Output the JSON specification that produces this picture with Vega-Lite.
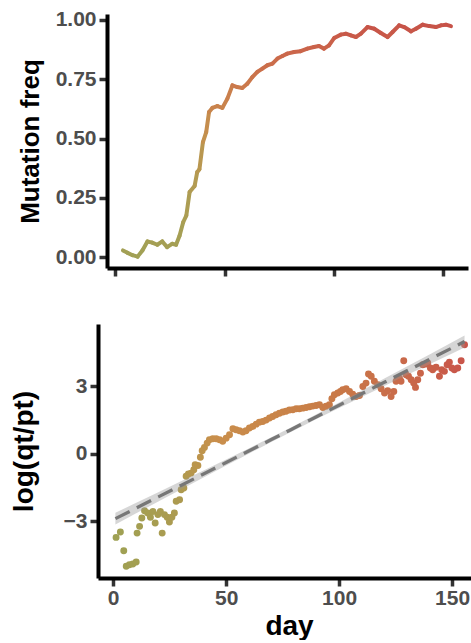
{
  "$schema": "https://vega.github.io/schema/vega-lite/v6.json",
  "background": "white",
  "padding": {"left": 9, "top": 8, "right": 0, "bottom": 0},
  "spacing": 46,
  "config": {
    "view": {"stroke": null},
    "font": "Liberation Sans",
    "axis": {
      "grid": false,
      "domainColor": "black",
      "domainWidth": 4,
      "tickColor": "#333333",
      "tickWidth": 3.5,
      "tickSize": 8,
      "labelFont": "Liberation Sans",
      "labelFontSize": 21,
      "labelFontWeight": "bold",
      "labelColor": "#4d4d4d",
      "titleFont": "Liberation Sans",
      "titleFontSize": 28,
      "titleFontWeight": "bold",
      "titleColor": "black"
    }
  },
  "datasets": {
    "freq": [
      {"day": 3.5, "freq": 0.028}, {"day": 5.6, "freq": 0.018}, {"day": 7.9, "freq": 0.008}, {"day": 10.2, "freq": 0.002},
      {"day": 12.4, "freq": 0.028}, {"day": 14.7, "freq": 0.066}, {"day": 16.9, "freq": 0.061}, {"day": 19.2, "freq": 0.052},
      {"day": 21.5, "freq": 0.066}, {"day": 23.7, "freq": 0.042}, {"day": 26.0, "freq": 0.056}, {"day": 27.8, "freq": 0.052},
      {"day": 29.4, "freq": 0.09}, {"day": 31.1, "freq": 0.148}, {"day": 32.5, "freq": 0.175}, {"day": 34.0, "freq": 0.274},
      {"day": 36.3, "freq": 0.30}, {"day": 37.5, "freq": 0.359}, {"day": 38.5, "freq": 0.37}, {"day": 40.1, "freq": 0.485},
      {"day": 41.6, "freq": 0.527}, {"day": 42.9, "freq": 0.612}, {"day": 44.4, "freq": 0.629}, {"day": 46.7, "freq": 0.637},
      {"day": 49.0, "freq": 0.629}, {"day": 51.3, "freq": 0.668}, {"day": 53.6, "freq": 0.724}, {"day": 55.8, "freq": 0.717},
      {"day": 58.1, "freq": 0.713}, {"day": 60.4, "freq": 0.731}, {"day": 62.7, "freq": 0.759}, {"day": 65.0, "freq": 0.781},
      {"day": 67.3, "freq": 0.795}, {"day": 69.6, "freq": 0.809}, {"day": 71.9, "freq": 0.816}, {"day": 74.2, "freq": 0.837},
      {"day": 76.5, "freq": 0.848}, {"day": 78.7, "freq": 0.858}, {"day": 81.8, "freq": 0.865}, {"day": 84.8, "freq": 0.868},
      {"day": 87.9, "freq": 0.879}, {"day": 90.9, "freq": 0.886}, {"day": 93.2, "freq": 0.890}, {"day": 95.5, "freq": 0.879},
      {"day": 97.8, "freq": 0.893}, {"day": 100.2, "freq": 0.924}, {"day": 103.2, "freq": 0.938}, {"day": 105.5, "freq": 0.942},
      {"day": 107.8, "freq": 0.935}, {"day": 110.1, "freq": 0.928}, {"day": 112.4, "freq": 0.942}, {"day": 115.4, "freq": 0.970},
      {"day": 118.5, "freq": 0.963}, {"day": 121.5, "freq": 0.945}, {"day": 124.6, "freq": 0.928}, {"day": 126.9, "freq": 0.949},
      {"day": 129.9, "freq": 0.977}, {"day": 132.2, "freq": 0.970}, {"day": 135.3, "freq": 0.952}, {"day": 137.6, "freq": 0.963},
      {"day": 140.6, "freq": 0.980}, {"day": 143.7, "freq": 0.974}, {"day": 146.7, "freq": 0.970}, {"day": 149.0, "freq": 0.977},
      {"day": 151.3, "freq": 0.980}, {"day": 153.6, "freq": 0.974}
    ],
    "logit": [
      {"day": 1.3, "v": -3.71}, {"day": 3.2, "v": -3.47}, {"day": 4.7, "v": -4.30}, {"day": 5.8, "v": -4.99},
      {"day": 7.2, "v": -4.92}, {"day": 8.7, "v": -4.89}, {"day": 10.2, "v": -4.80}, {"day": 10.6, "v": -3.52},
      {"day": 11.7, "v": -3.22}, {"day": 12.7, "v": -2.85}, {"day": 13.9, "v": -2.53}, {"day": 15.3, "v": -2.63},
      {"day": 16.5, "v": -2.82}, {"day": 17.6, "v": -2.56}, {"day": 18.6, "v": -3.07}, {"day": 19.8, "v": -2.70},
      {"day": 20.9, "v": -2.56}, {"day": 21.7, "v": -3.52}, {"day": 22.7, "v": -2.70}, {"day": 23.9, "v": -2.82},
      {"day": 24.9, "v": -3.03}, {"day": 26.0, "v": -2.82}, {"day": 27.1, "v": -2.63}, {"day": 27.9, "v": -2.11},
      {"day": 29.4, "v": -2.04}, {"day": 30.1, "v": -1.60}, {"day": 31.3, "v": -1.52}, {"day": 32.3, "v": -1.00},
      {"day": 33.3, "v": -0.90}, {"day": 34.5, "v": -0.86}, {"day": 35.7, "v": -0.71}, {"day": 36.3, "v": -0.49},
      {"day": 37.5, "v": -0.52}, {"day": 38.6, "v": -0.16}, {"day": 39.4, "v": 0.13}, {"day": 40.4, "v": 0.28},
      {"day": 41.6, "v": 0.47}, {"day": 42.6, "v": 0.62}, {"day": 44.1, "v": 0.66}, {"day": 45.6, "v": 0.66},
      {"day": 47.1, "v": 0.62}, {"day": 48.5, "v": 0.55}, {"day": 50.0, "v": 0.69}, {"day": 51.5, "v": 0.84},
      {"day": 53.0, "v": 1.11}, {"day": 54.4, "v": 1.06}, {"day": 55.9, "v": 1.02}, {"day": 57.4, "v": 0.96},
      {"day": 58.8, "v": 1.02}, {"day": 60.3, "v": 1.14}, {"day": 61.8, "v": 1.21}, {"day": 63.3, "v": 1.31},
      {"day": 64.7, "v": 1.40}, {"day": 66.2, "v": 1.43}, {"day": 67.7, "v": 1.49}, {"day": 69.2, "v": 1.58},
      {"day": 70.6, "v": 1.65}, {"day": 72.1, "v": 1.73}, {"day": 73.6, "v": 1.79}, {"day": 75.1, "v": 1.85},
      {"day": 76.5, "v": 1.88}, {"day": 78.0, "v": 1.94}, {"day": 79.5, "v": 1.95}, {"day": 81.0, "v": 1.99},
      {"day": 82.4, "v": 1.99}, {"day": 83.9, "v": 2.02}, {"day": 85.4, "v": 2.05}, {"day": 86.9, "v": 2.08},
      {"day": 88.3, "v": 2.11}, {"day": 89.8, "v": 2.14}, {"day": 91.3, "v": 2.17}, {"day": 92.8, "v": 2.05},
      {"day": 94.2, "v": 2.10}, {"day": 95.7, "v": 2.17}, {"day": 96.8, "v": 2.44}, {"day": 97.9, "v": 2.61},
      {"day": 99.4, "v": 2.69}, {"day": 100.6, "v": 2.76}, {"day": 101.6, "v": 2.84}, {"day": 103.1, "v": 2.88},
      {"day": 104.6, "v": 2.76}, {"day": 106.0, "v": 2.64}, {"day": 107.5, "v": 2.54}, {"day": 109.0, "v": 2.58},
      {"day": 110.5, "v": 2.98}, {"day": 111.9, "v": 3.13}, {"day": 113.0, "v": 3.53}, {"day": 114.2, "v": 3.43},
      {"day": 115.6, "v": 3.21}, {"day": 117.1, "v": 3.06}, {"day": 118.6, "v": 2.88}, {"day": 120.1, "v": 2.69},
      {"day": 121.5, "v": 2.79}, {"day": 123.0, "v": 2.54}, {"day": 124.2, "v": 2.76}, {"day": 125.2, "v": 3.21},
      {"day": 126.7, "v": 3.35}, {"day": 127.4, "v": 3.21}, {"day": 128.6, "v": 4.12}, {"day": 129.6, "v": 3.50},
      {"day": 130.7, "v": 3.43}, {"day": 131.9, "v": 3.28}, {"day": 133.0, "v": 3.13}, {"day": 133.8, "v": 2.94},
      {"day": 134.8, "v": 3.28}, {"day": 136.0, "v": 3.57}, {"day": 137.0, "v": 3.94}, {"day": 138.1, "v": 3.97},
      {"day": 139.2, "v": 4.02}, {"day": 140.4, "v": 3.80}, {"day": 141.4, "v": 3.72}, {"day": 142.9, "v": 3.83},
      {"day": 144.4, "v": 3.43}, {"day": 145.4, "v": 3.72}, {"day": 146.6, "v": 3.65}, {"day": 147.8, "v": 3.94},
      {"day": 148.8, "v": 4.06}, {"day": 149.9, "v": 3.80}, {"day": 151.0, "v": 3.72}, {"day": 152.5, "v": 3.80},
      {"day": 154.0, "v": 4.12}, {"day": 155.5, "v": 4.83}
    ],
    "fit": [
      {"day": 1, "fit": -2.879, "lo": -3.139, "hi": -2.619},
      {"day": 10, "fit": -2.422, "lo": -2.656, "hi": -2.188},
      {"day": 20, "fit": -1.914, "lo": -2.120, "hi": -1.708},
      {"day": 30, "fit": -1.406, "lo": -1.588, "hi": -1.224},
      {"day": 40, "fit": -0.898, "lo": -1.053, "hi": -0.743},
      {"day": 50, "fit": -0.390, "lo": -0.523, "hi": -0.257},
      {"day": 60, "fit": 0.118, "lo": 0.003, "hi": 0.233},
      {"day": 70, "fit": 0.626, "lo": 0.523, "hi": 0.729},
      {"day": 78, "fit": 1.032, "lo": 0.932, "hi": 1.132},
      {"day": 90, "fit": 1.642, "lo": 1.535, "hi": 1.749},
      {"day": 100, "fit": 2.150, "lo": 2.029, "hi": 2.271},
      {"day": 110, "fit": 2.658, "lo": 2.517, "hi": 2.799},
      {"day": 120, "fit": 3.166, "lo": 3.001, "hi": 3.331},
      {"day": 130, "fit": 3.674, "lo": 3.484, "hi": 3.864},
      {"day": 140, "fit": 4.182, "lo": 3.965, "hi": 4.399},
      {"day": 150, "fit": 4.690, "lo": 4.444, "hi": 4.936},
      {"day": 155.5, "fit": 4.970, "lo": 4.705, "hi": 5.235}
    ]
  },
  "vconcat": [
    {
      "width": 370,
      "height": 254,
      "data": {"name": "freq"},
      "transform": [
        {"window": [{"op": "lead", "field": "day", "as": "day2"}, {"op": "lead", "field": "freq", "as": "freq2"}], "sort": [{"field": "day"}]},
        {"filter": "datum.day2 != null"}
      ],
      "mark": {"type": "rule", "strokeWidth": 4, "strokeCap": "round"},
      "encoding": {
        "x": {"field": "day", "type": "quantitative", "scale": {"domain": [-3.8, 161.4], "range": [9, 370], "nice": false, "zero": false},
              "axis": {"values": [0, 50, 100, 150], "labels": false, "title": null}},
        "x2": {"field": "day2"},
        "y": {"field": "freq", "type": "quantitative", "scale": {"domain": [-0.046, 1.025], "nice": false, "zero": false},
              "axis": {"values": [0, 0.25, 0.5, 0.75, 1], "format": ".2f", "title": "Mutation freq", "titleFontSize": 26, "titleX": -64, "labelPadding": 3, "offset": -9}},
        "y2": {"field": "freq2"},
        "color": {"field": "freq", "type": "quantitative", "legend": null,
                  "scale": {"domain": [0, 0.3, 0.5, 0.7, 0.85, 1.0], "range": ["#a1a055", "#b39b52", "#c4904e", "#cb7c4c", "#cb684b", "#c64f48"]}}
      }
    },
    {
      "width": 374,
      "height": 254,
      "layer": [
        {
          "data": {"name": "logit"},
          "mark": {"type": "circle", "size": 48, "opacity": 1},
          "encoding": {
            "x": {"field": "day", "type": "quantitative", "scale": {"domain": [-6.7, 158.8], "nice": false, "zero": false},
                  "axis": {"values": [0, 50, 100, 150], "title": "day", "labelPadding": 1, "titlePadding": 4, "titleX": 191}},
            "y": {"field": "v", "type": "quantitative", "scale": {"domain": [-5.51, 5.75], "nice": false, "zero": false},
                  "axis": {"values": [-3, 0, 3], "title": "log(qt/pt)", "titleX": -60, "labelPadding": 3}},
            "color": {"field": "day", "type": "quantitative", "legend": null,
                      "scale": {"domain": [0, 30, 45, 90, 125, 155], "range": ["#9ea154", "#ad9a50", "#c98f4c", "#c97e48", "#c96c4a", "#c9554a"]}}
          }
        },
        {
          "data": {"name": "fit"},
          "mark": {"type": "area", "color": "#999999", "opacity": 0.4},
          "encoding": {
            "x": {"field": "day", "type": "quantitative"},
            "y": {"field": "lo", "type": "quantitative"},
            "y2": {"field": "hi"}
          }
        },
        {
          "data": {"name": "fit"},
          "mark": {"type": "line", "color": "#777777", "strokeWidth": 3.3, "strokeDash": [16, 8]},
          "encoding": {
            "x": {"field": "day", "type": "quantitative"},
            "y": {"field": "fit", "type": "quantitative"}
          }
        }
      ]
    }
  ],
  "resolve": {"scale": {"x": "independent", "y": "independent", "color": "independent"}}
}
